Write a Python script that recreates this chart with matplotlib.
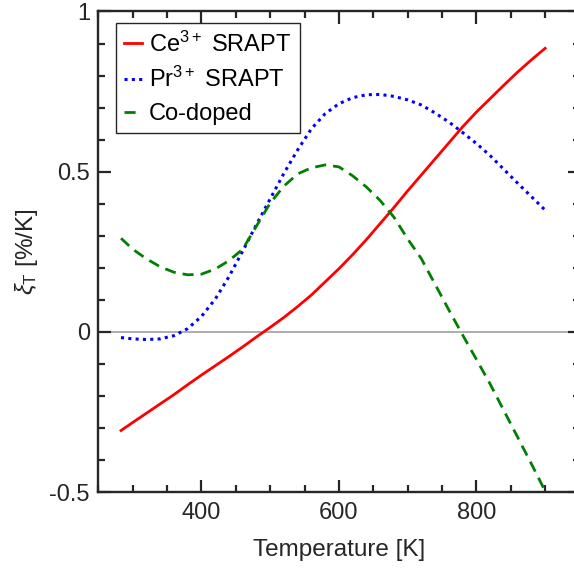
import numpy as np
import matplotlib
matplotlib.use("Agg")
import matplotlib.pyplot as plt
from matplotlib.ticker import MultipleLocator

plt.rcParams['font.family'] = ['Liberation Sans', 'DejaVu Sans']
plt.rcParams['mathtext.fontset'] = 'custom'
plt.rcParams['mathtext.rm'] = 'Liberation Sans'
plt.rcParams['mathtext.it'] = 'Liberation Sans:italic'
plt.rcParams['axes.unicode_minus'] = False

# temperature grid (K)
temp = [283, 300, 320, 340, 360, 380, 400, 420, 440, 460, 480, 500, 520, 540, 560, 580,
        600, 620, 640, 660, 680, 700, 720, 740, 760, 780, 800, 820, 840, 860, 880, 900]

ce_srapt = [-0.308, -0.283, -0.254, -0.225, -0.196, -0.165, -0.135, -0.106, -0.077, -0.047,
            -0.016, 0.014, 0.045, 0.079, 0.115, 0.156, 0.197, 0.241, 0.288, 0.338, 0.388,
            0.440, 0.490, 0.540, 0.590, 0.640, 0.686, 0.728, 0.770, 0.811, 0.849, 0.885]

pr_srapt = [-0.018, -0.022, -0.024, -0.022, -0.012, 0.010, 0.048, 0.102, 0.172, 0.252,
            0.335, 0.415, 0.495, 0.568, 0.634, 0.681, 0.712, 0.731, 0.740, 0.741, 0.735,
            0.724, 0.708, 0.683, 0.655, 0.622, 0.588, 0.550, 0.507, 0.464, 0.422, 0.380]

co_doped = [0.292, 0.258, 0.228, 0.203, 0.186, 0.178, 0.180, 0.196, 0.222, 0.258, 0.330,
            0.402, 0.455, 0.493, 0.512, 0.521, 0.515, 0.487, 0.452, 0.410, 0.358, 0.290,
            0.228, 0.148, 0.068, -0.010, -0.086, -0.163, -0.246, -0.329, -0.412, -0.497]

labels = ['Ce$^{3+}$ SRAPT', 'Pr$^{3+}$ SRAPT', 'Co-doped']
xticks = [400, 600, 800]
yticks = [-0.5, 0, 0.5, 1]
ytick_labels = ['-0.5', '0', '0.5', '1']

dark = '#262626'

fig = plt.figure(figsize=(5.74, 5.77), dpi=100)
ax = fig.add_axes([0.1713, 0.1473, 0.8383, 0.8328])

ax.axhline(0, color='#a0a0a0', lw=1.2, zorder=1)
ax.plot(temp, ce_srapt, color='red', lw=2.0, label=labels[0], zorder=3)
ax.plot(temp, pr_srapt, color='blue', lw=2.2, linestyle=(0, (1, 1.4)),
        dash_capstyle='butt', label=labels[1], zorder=3)
ax.plot(temp, co_doped, color='green', lw=2.0, linestyle=(0, (4, 2.5)),
        label=labels[2], zorder=3)

ax.set_xlim(250, 950)
ax.set_ylim(-0.5, 1)
ax.set_xticks(xticks)
ax.set_yticks(yticks)
ax.set_yticklabels(ytick_labels)
ax.xaxis.set_minor_locator(MultipleLocator(50))
ax.yaxis.set_minor_locator(MultipleLocator(0.1))

ax.tick_params(which='both', direction='in', top=True, right=True,
               color=dark, width=1.6, labelsize=17, labelcolor=dark)
ax.tick_params(which='major', length=9)
ax.tick_params(which='minor', length=5)
ax.tick_params(axis='x', pad=7)
ax.tick_params(axis='y', pad=6)
for s in ax.spines.values():
    s.set_color(dark)
    s.set_linewidth(1.7)

ax.set_xlabel('Temperature [K]', fontsize=17.5, color=dark, labelpad=11)
ax.set_ylabel(r'$\xi_{\mathrm{T}}$ [%/K]', fontsize=17.5, color=dark, labelpad=7)

leg = ax.legend(loc='upper left', bbox_to_anchor=(0.037, 0.976), borderaxespad=0,
                fontsize=17, handlelength=0.75, handletextpad=0.3, labelspacing=0.45,
                borderpad=0.35, fancybox=False, framealpha=1)
leg.get_frame().set_edgecolor(dark)
leg.get_frame().set_linewidth(1.0)

fig.savefig('out.png', dpi=100)
